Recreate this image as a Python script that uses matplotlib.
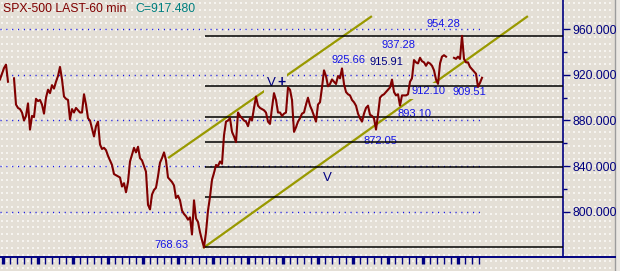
import numpy as np
import matplotlib
matplotlib.use("Agg")
import matplotlib.pyplot as plt
from matplotlib.patches import Rectangle

# SPX-500, 60 min closes, one value every 2 bars (None = no data)
close = [
    916, 921, 926, 929, 914, None, None, 917, 894, 891,
    890, 887, 880, 884, 895, 872, 884, 883, 899, 897,
    898, 894, 886, 900, 907, 904, 911, 908, 914, 919,
    927, 916, 901, 899, 898, 881, 890, 887, 891, 889,
    887, 887, 903, 894, 882, 880, 873, 866, 875, 879,
    859, 855, 856, 854, 849, 845, 841, 833, 832, 831,
    830, 822, 825, 817, 826, 844, 850, 856, 852, 857,
    847, 845, 840, 835, 806, 802, 815, 819, 821, 831,
    843, 847, 852, 845, 830, 828, 826, 823, 812, 814,
    810, 801, 798, 796, 793, 795, 780, 810, 794, 791,
    782, 775, 768.63, 782, 801, 813, 828, 834, 841, 840,
    844, 842, 867, 879, 880, 882, 870, 866, 861, 887,
    884, 882, 880, 879, 875, 882, 880, 891, 901, 893,
    891, 890, 889, 887, 879, 877, 891, 904, 898, 887,
    887, 884, 886, 887, 909, 907, 898, 870, 874, 879,
    882, 886, 887, 894, 900, 893, 889, 884, 879, 894,
    896, 909, 924, 919, 910, 912, 916, 914, 912, 919,
    917, 925.66, 912, 905, 903, 902, 898, 896, 893, 886,
    882, 879, 886, 891, 893, 885, 884, 882, 872.05, 885,
    900, 902, 903, 905, 907, 909, 915.91, 905, 902, 903,
    893.10, 902, 902, 902, 903, 914, 917, 933, 931, 930,
    935, 932, 931, 928, 931, 930, 928, 924, 916, 912.10,
    930, 936, 937.28, 936, None, None, None, 935, 934, 936,
    934, 954.28, 934, 931, 931, 927, 925, 923, 921, 909.51,
    913, 917.48,
]
bars = np.arange(len(close)) * 2
close = np.array([np.nan if c is None else c for c in close], dtype=float)

low_bar, low_val = 204, 768.63
high_val = 954.28
fib_ratios = [0, 0.236, 0.382, 0.5, 0.618, 0.764, 1.0]
fib_levels = [high_val - r * (high_val - low_val) for r in fib_ratios]

chan_low_x, chan_low_y = [204, 527], [768.63, 971.0]
chan_up_x, chan_up_y = [169, 371], [847.6, 971.0]

grid_levels = [800, 840, 880, 920, 960]
minor_levels = [820, 860, 900, 940]

bg = "#e4dfd6"
navy = "#000080"
blue = "#1414e6"

plt.rcParams["font.family"] = ["Liberation Sans", "DejaVu Sans"]

W, H = 620, 271
fig = plt.figure(figsize=(W / 100, H / 100), dpi=100)
fig.patch.set_facecolor(bg)

# dotted backdrop
back = fig.add_axes([0, 0, 1, 1], zorder=-5)
back.set_xlim(0, W)
back.set_ylim(H, 0)
back.axis("off")
gx, gy = np.meshgrid(np.arange(2, 614, 5.2), np.arange(3, H, 6.8))
back.scatter(gx.ravel(), gy.ravel(), s=0.6, c="#f6f4f0", marker="s", lw=0)
back.add_patch(Rectangle((614.5, 0), 6, H, color="#ebe8e3", zorder=2))
back.plot([614.5, 614.5], [0, H], color="#9c9c9c", lw=1, zorder=3)
back.plot([0, 615], [256.7, 256.7], color=navy, lw=1.4, zorder=3)

ax = fig.add_axes([0, 14.3 / H, 563 / W, 256.7 / H])
ax.patch.set_alpha(0)
ax.set_xlim(0, 563)
ax.set_ylim(760.5, 985.7)

for s in ["top", "left", "bottom"]:
    ax.spines[s].set_visible(False)
ax.spines["right"].set_color(navy)
ax.spines["right"].set_linewidth(1.2)

# blue dotted grid
ax.hlines(grid_levels, 0, bars[-1], colors=blue, lw=1, linestyles=(0, (0.8, 3.4)), zorder=1)

# channel lines
ax.plot(chan_low_x, chan_low_y, color="#999900", lw=1.6, zorder=2)
ax.plot(chan_up_x, chan_up_y, color="#999900", lw=1.6, zorder=2)

# annotations
txt = dict(fontsize=8, ha="center", va="center", zorder=3)
box = dict(facecolor=bg, edgecolor="none", pad=2.2)
ax.text(443, 964.6, "954.28", color=blue, **txt)
ax.text(399, 946.2, "937.28", color=blue, **txt)
ax.text(349, 933.1, "925.66", color=blue, **txt)
ax.text(386, 930.9, "915.91", color=navy, **txt)
ax.text(428, 905.9, "912.10", color=blue, bbox=box, **txt)
ax.text(469, 905.0, "909.51", color=blue, **txt)
ax.text(414, 885.7, "893.10", color=blue, **txt)
ax.text(380, 862.0, "872.05", color=blue, **txt)
ax.text(171, 770.4, "768.63", color=blue, **txt)
ax.text(276, 912.5, "V", color=navy, fontsize=9.5, ha="right", va="center", zorder=3,
        bbox=dict(facecolor=bg, edgecolor="none", pad=2.5))
ax.text(277, 913.5, "+", color=navy, fontsize=10, fontweight="bold", ha="left", va="center",
        zorder=3, bbox=dict(facecolor=bg, edgecolor="none", pad=1.0))
ax.text(327, 829.6, "V", color=navy, fontsize=9.5, ha="center", va="center", zorder=3)

# fibonacci levels
ax.hlines(fib_levels, low_bar + 1, 563, colors="black", lw=1.1, zorder=4)

# price
ax.plot(bars, close, color="#800000", lw=1.5, zorder=5)

# axes ticks
ax.yaxis.tick_right()
ax.set_yticks(grid_levels)
ax.set_yticklabels([f"{v:.3f}" for v in grid_levels])
ax.set_yticks(minor_levels, minor=True)
ax.tick_params(axis="y", which="major", length=5, width=1, color=navy, labelcolor=navy,
               labelsize=8.8, pad=1.5)
ax.tick_params(axis="y", which="minor", length=3, width=1, color=navy)

ax.set_xticks(np.arange(3, 483, 35))
ax.set_xticks(np.arange(3, 483, 7), minor=True)
ax.tick_params(axis="x", which="major", length=5, width=2.4, color=navy, labelbottom=False)
ax.tick_params(axis="x", which="minor", length=5, width=1, color=navy)

fig.text(3 / W, 1 - 9 / H, "SPX-500 LAST-60 min", color="#800000", fontsize=8.8, va="center")
fig.text(135 / W, 1 - 9 / H, "C=917.480", color="#008080", fontsize=8.8, va="center")

fig.savefig("out.png", dpi=100, facecolor=bg)
